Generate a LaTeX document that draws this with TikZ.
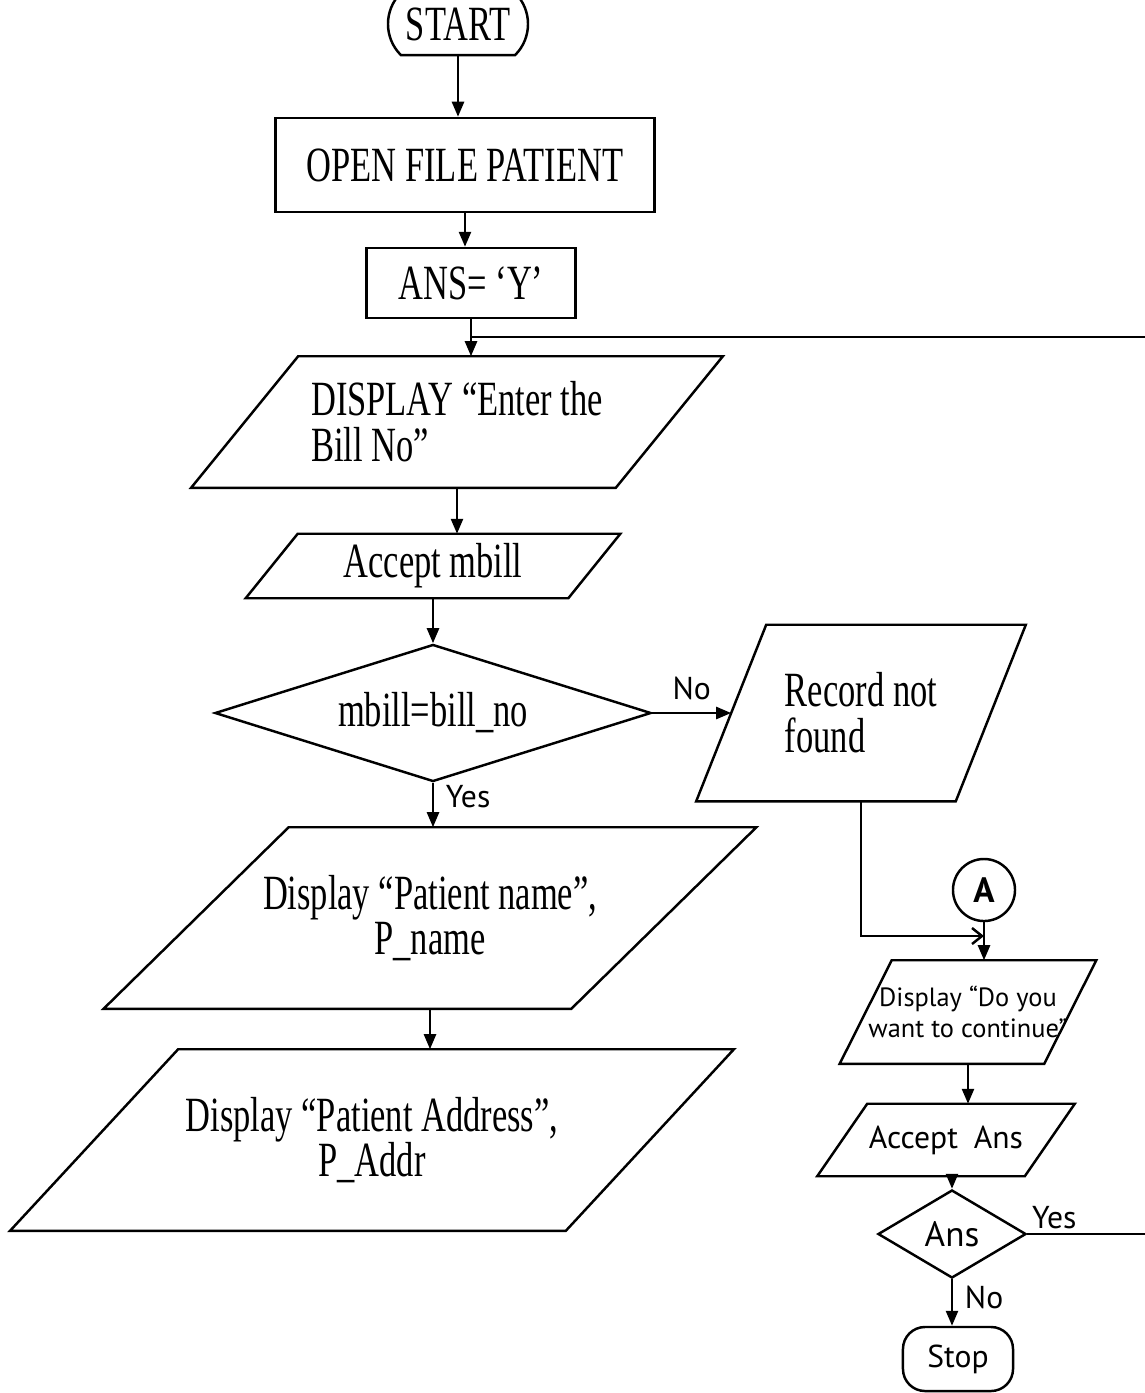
\documentclass[tikz,border=0pt]{standalone}
\usepackage{fontspec}
\setmainfont{Liberation Serif}[FakeStretch=0.7]
\newfontfamily\handfont{PT Sans}
\usetikzlibrary{shapes.geometric,shapes.misc,arrows.meta}

\tikzset{
  wire/.style={line width=0.7pt},
  flow/.style={line width=0.7pt, inner sep=2pt, font=\fontsize{14}{13}\selectfont},
  term/.style={flow, draw, rounded rectangle, rounded rectangle arc length=90},
  proc/.style={flow, draw, rectangle},
  % parallelogram drawn round the body of the node, #1 = slant
  io/.style={flow, rectangle, inner xsep=-0.3cm, inner ysep=0pt,
    append after command={\pgfextra{\draw[wire] ([xshift=-#1]\tikzlastnode.south west) -- (\tikzlastnode.north west) -- ([xshift=#1]\tikzlastnode.north east) -- (\tikzlastnode.south east) -- cycle;}}},
  test/.style={flow, draw, diamond, inner sep=0pt},
  conn/.style={draw, circle, line width=0.7pt, minimum size=0.62cm, inner sep=0pt, font=\handfont\bfseries\fontsize{10}{12}\selectfont},
  hand/.style={font=\handfont\fontsize{9}{10}\selectfont},
  arr/.style={line width=0.7pt, -{Triangle[length=0.15cm, width=0.12cm]}},
  barb/.style={line width=0.7pt, -{Straight Barb[length=0.1cm, width=0.16cm]}}
}

\begin{document}
\begin{tikzpicture}[x=0.01cm, y=-0.01cm]
\useasboundingbox (0,0) rectangle (1145,1393);
\clip (0,0) rectangle (1145,1393);

% main column
\node[term, minimum width=1.54cm, minimum height=0.62cm] (start) at (458,24) {START};
\node[proc, minimum width=3.79cm, minimum height=0.94cm] (open) at (465,165) {OPEN FILE PATIENT};
\node[proc, minimum width=2.09cm, minimum height=0.70cm] (ansy) at (471,283) {ANS= ‘Y’};
\node[io=1.07cm, minimum width=3.15cm, minimum height=1.29cm, align=left] (enter) at (457,422) {DISPLAY “Enter the\\Bill No”};
\node[io=0.52cm, minimum width=2.68cm, minimum height=0.62cm] (accm) at (433,566) {Accept mbill};
\node[test, aspect=3.18, minimum width=4.36cm, minimum height=1.37cm] (check) at (433,713) {mbill=bill\_no};
\node[io=1.85cm, minimum width=2.80cm, minimum height=1.79cm, align=center] (pname) at (430,918) {Display “Patient name”,\\P\_name};
\node[io=1.68cm, minimum width=3.85cm, minimum height=1.79cm, align=center] (paddr) at (372,1140) {Display “Patient Address”,\\P\_Addr};

% right branch
\node[io=0.70cm, minimum width=1.87cm, minimum height=1.74cm, align=left] (nofound) at (861,713) {Record not\\found};
\node[conn] (conA) at (984,890) {A};
\node[io=0.52cm, minimum width=1.50cm, minimum height=1.01cm, align=center, font=\handfont\fontsize{7.5}{9}\selectfont] (askmore) at (968,1012) {Display “Do you\\want to continue”};
\node[io=0.50cm, minimum width=1.55cm, minimum height=0.70cm, font=\handfont\fontsize{9}{10}\selectfont] (accans) at (946,1140) {Accept\enspace Ans};
\node[test, aspect=1.68, minimum width=1.48cm, minimum height=0.88cm, font=\handfont\fontsize{10}{12}\selectfont] (ans) at (952,1234) {Ans};
\node[flow, draw, rounded corners=0.22cm, minimum width=1.10cm, minimum height=0.64cm, font=\handfont\fontsize{9}{11}\selectfont] (stop) at (958,1359) {Stop};

\path (ansy.south) ++(0,18) coordinate (loopin);
\coordinate (amerge) at (984,936);

\draw[arr] (start.south) -- (start.south |- open.north);
\draw[arr] (open.south) -- (open.south |- ansy.north);
\draw[arr] (ansy.south) -- (ansy.south |- enter.north);
\draw[arr] (enter.south) -- (enter.south |- accm.north);
\draw[arr] (accm.south) -- (check.north);
\draw[arr] (check.south) -- (check.south |- pname.north) node[hand, right, pos=0.3] (yes1) {Yes};
\draw[arr] (pname.south) -- (pname.south |- paddr.north);
\draw[arr] (check.east) -- ([xshift=-0.35cm]nofound.west) node[hand, above, midway] (no1) {No};

\draw[barb] (nofound.south) |- (amerge);
\draw[arr] (conA.south) -- (conA.south |- askmore.north);
\draw[arr] (askmore.south) -- (askmore.south |- accans.north);
\draw[arr] (ans.north |- accans.south) -- (ans.north);
\draw[arr] (ans.south) -- (ans.south |- stop.north) node[hand, right, pos=0.4] (no2) {No};
\draw[wire] (ans.east) -- ++(250,0) node[hand, pos=0, anchor=south west, inner sep=1pt] (yes2) {Yes} |- (loopin);
\end{tikzpicture}
\end{document}
